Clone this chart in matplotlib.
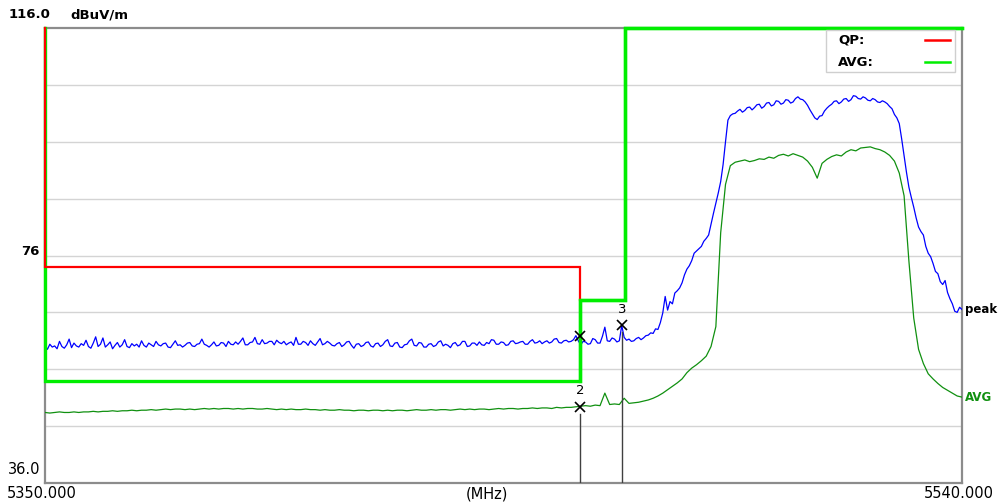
import numpy as np
import matplotlib
matplotlib.use("Agg")
import matplotlib.pyplot as plt

# ---- data ---------------------------------------------------------------
freq_start = 5350.0
freq_stop = 5540.0
peak_freqs = np.arange(5350, 5540.25, 0.5)  # 0.5 MHz steps
avg_freqs = np.arange(5350, 5541, 1.0)      # 1 MHz steps

peak_trace = [
    # 5350 - 5359.5
    60.2, 59.5, 60.4, 59.9, 60.1, 59.6, 60.9, 60.0, 59.7, 60.3,
    61.3, 59.8, 60.6, 60.1, 59.9, 60.5, 60.2, 61.1, 60.0, 59.7,
    # 5360 - 5369.5
    60.6, 61.7, 60.0, 60.4, 61.5, 59.9, 60.3, 60.8, 59.6, 60.2,
    60.7, 59.9, 60.3, 61.2, 60.0, 59.8, 60.5, 60.1, 60.4, 59.9,
    # 5370 - 5379.5
    61.0, 60.2, 59.9, 60.6, 60.3, 60.0, 60.9, 60.3, 60.1, 60.5,
    60.6, 59.9, 59.8, 60.4, 61.0, 60.2, 60.3, 59.9, 60.2, 60.6,
    # 5380 - 5389.5
    60.7, 60.1, 60.0, 60.4, 60.5, 61.3, 60.4, 60.2, 59.9, 60.3,
    60.8, 60.1, 60.2, 60.7, 60.6, 60.0, 60.9, 60.4, 60.3, 60.8,
    # 5390 - 5399.5
    60.4, 60.9, 61.5, 60.3, 60.3, 60.7, 60.8, 61.6, 60.5, 60.4,
    61.2, 60.5, 60.6, 60.9, 60.9, 60.3, 61.1, 60.7, 60.5, 60.9,
    # 5400 - 5409.5
    60.3, 60.6, 60.8, 60.2, 61.6, 60.4, 60.4, 60.9, 60.7, 60.2,
    61.0, 60.5, 60.2, 60.8, 61.4, 60.3, 60.5, 60.9, 60.6, 60.2,
    # 5410 - 5419.5
    60.1, 60.5, 60.7, 60.0, 60.3, 60.8, 60.9, 60.2, 59.7, 60.4,
    60.5, 60.0, 60.2, 60.7, 60.8, 60.1, 59.9, 60.5, 60.6, 60.0,
    # 5420 - 5429.5
    60.3, 60.9, 61.2, 60.1, 60.0, 60.6, 60.7, 59.9, 59.8, 60.3,
    60.4, 61.0, 61.3, 60.2, 60.1, 60.7, 60.6, 59.9, 59.9, 60.4,
    # 5430 - 5439.5
    60.5, 60.0, 60.2, 60.8, 61.0, 60.1, 60.4, 60.2, 59.8, 60.5,
    60.7, 60.1, 60.3, 60.9, 60.9, 60.0, 60.1, 60.6, 60.6, 60.2,
    # 5440 - 5449.5
    60.8, 60.3, 60.2, 60.7, 60.5, 61.2, 61.1, 60.4, 60.4, 60.8,
    60.7, 60.2, 60.3, 60.9, 61.0, 60.5, 60.6, 60.8, 60.9, 60.4,
    # 5450 - 5459.5
    60.4, 60.9, 61.2, 60.6, 60.7, 61.0, 60.5, 60.8, 61.0, 60.6,
    60.8, 61.3, 61.4, 60.7, 60.6, 61.0, 61.1, 60.8, 60.9, 61.2,
    # 5460 - 5469.5
    61.9, 61.0, 60.3, 60.9, 60.8, 60.4, 60.5, 61.4, 61.2, 60.6,
    60.6, 61.8, 63.4, 61.0, 60.9, 61.5, 61.3, 60.8, 61.0, 63.7,
    # 5470 - 5479.5
    61.6, 61.1, 61.3, 60.9, 61.0, 61.4, 61.6, 61.2, 61.5, 61.9,
    62.0, 62.4, 62.3, 63.1, 63.0, 64.2, 65.9, 68.8, 66.4, 67.9,
    # 5480 - 5489.5
    67.5, 69.4, 69.8, 70.3, 71.2, 72.6, 73.6, 74.2, 75.1, 76.4,
    76.8, 77.2, 77.6, 78.5, 79.0, 79.6, 81.5, 83.4, 85.2, 87.0,
    # 5490 - 5499.5
    89.0, 92.0, 96.0, 99.8, 100.6, 100.9, 101.0, 101.4, 101.7, 101.2,
    101.5, 102.0, 102.1, 101.6, 102.0, 102.5, 102.6, 101.9, 102.2, 102.8,
    # 5500 - 5509.5
    102.9, 102.3, 102.5, 103.2, 103.1, 102.6, 102.8, 103.4, 103.3, 102.8,
    103.0, 103.6, 103.9, 103.5, 103.4, 103.0, 102.4, 101.6, 100.9, 100.2,
    # 5510 - 5519.5
    99.9, 100.5, 100.6, 101.4, 101.9, 102.3, 102.6, 103.1, 103.2, 102.7,
    103.0, 103.5, 103.6, 103.1, 103.4, 104.1, 104.0, 103.6, 103.5, 103.9,
    # 5520 - 5529.5
    103.7, 103.3, 103.2, 103.6, 103.4, 103.0, 102.9, 103.2, 103.0, 102.7,
    102.2, 101.8, 100.8, 100.2, 99.2, 96.5, 93.5, 90.6, 88.0, 86.2,
    # 5530 - 5540
    84.5, 82.6, 81.0, 80.2, 79.6, 77.6, 76.4, 75.8, 74.6, 73.2,
    72.8, 71.4, 70.9, 71.6, 69.5, 68.4, 67.5, 66.2, 66.0, 66.9,
    66.5,
]

avg_trace = [
    48.4, 48.3, 48.4, 48.5, 48.4, 48.4, 48.5, 48.4, 48.5, 48.5,
    48.6, 48.5, 48.6, 48.6, 48.7, 48.6, 48.7, 48.7, 48.8, 48.7,
    48.8, 48.8, 48.9, 48.8, 48.9, 49.0, 48.9, 49.0, 49.0, 48.9,
    49.0, 48.9, 49.0, 49.1, 49.0, 49.1, 49.0, 49.1, 49.1, 49.0,
    49.1, 49.0, 49.1, 49.1, 49.0, 49.0, 49.1, 49.0, 48.9, 49.0,
    48.9, 49.0, 48.9, 48.9, 49.0, 48.9, 48.9, 48.8, 48.9, 48.8,
    48.8, 48.9, 48.8, 48.8, 48.7, 48.8, 48.8, 48.7, 48.8, 48.8,
    48.7, 48.8, 48.7, 48.8, 48.8, 48.7, 48.8, 48.9, 48.8, 48.8,
    48.9, 48.8, 48.9, 48.9, 48.8, 48.9, 49.0, 48.9, 49.0, 48.9,
    49.0, 49.0, 48.9, 49.0, 49.1, 49.0, 49.1, 49.1, 49.0, 49.1,
    49.1, 49.2, 49.1, 49.2, 49.2, 49.1, 49.3, 49.2, 49.3, 49.3,
    49.4,
    49.5, 49.6, 49.5, 49.7, 49.6, 51.8, 49.8, 49.9, 49.8,
    50.9,
    50.0, 50.1, 50.2, 50.4, 50.6, 50.9, 51.3,
    51.8, 52.4, 53.0, 53.6, 54.3, 55.4, 56.2, 56.8, 57.5, 58.3,
    60.0, 63.5, 80.0, 88.5, 91.8, 92.4, 92.6, 92.8, 92.5, 92.7,
    93.0, 92.9, 93.3, 93.1, 93.6, 93.8, 93.5, 93.9, 93.6, 93.3,
    92.6, 91.5, 89.6, 92.2, 92.9, 93.4, 93.7, 93.5, 94.2, 94.6,
    94.4, 94.9, 95.0, 95.1, 94.8, 94.6, 94.2, 93.6, 92.6, 90.5,
    86.5, 75.0, 65.0, 59.5, 57.0, 55.2, 54.3, 53.5, 52.8, 52.3,
    51.8, 51.3, 51.1,
]

# limit lines (MHz, dBuV/m)
qp_limit_f = [5350, 5350, 5460.8, 5460.8]
qp_limit_v = [116, 74, 74, 68.2]
avg_limit_f = [5350, 5350, 5460.8, 5460.8, 5470.2, 5470.2, 5540]
avg_limit_v = [116, 54, 54, 68.2, 68.2, 116, 116]

# markers: (label, frequency, level)
marker_ids = ["1", "2", "3"]
marker_freqs = [5460.8, 5460.8, 5469.6]
marker_levels = [61.9, 49.4, 63.7]

y_min, y_max = 36.0, 116.0
grid_levels = [46, 56, 66, 76, 86, 96, 106]

# ---- figure -------------------------------------------------------------
fig = plt.figure(figsize=(9.99, 5.04), dpi=100)
fig.patch.set_facecolor("white")
ax = fig.add_axes([45 / 999, 21 / 504, 917 / 999, 455 / 504])
ax.set_xlim(freq_start, freq_stop)
ax.set_ylim(y_min, y_max)
ax.set_xticks([])
ax.set_yticks([])
for s in ax.spines.values():
    s.set_color("#8c8c8c")
    s.set_linewidth(1.6)

for g in grid_levels:
    ax.axhline(g, color="#d4d4d4", lw=1.0, zorder=1)

bold = dict(fontfamily="DejaVu Sans", fontweight="bold", fontsize=9.5)
side = dict(fontfamily="DejaVu Sans", fontweight="bold", fontsize=8.5)
narrow = dict(fontfamily=["Liberation Sans Narrow", "DejaVu Sans"], fontsize=10.5)

# traces
ax.plot(peak_freqs, peak_trace, color="#0000ff", lw=0.9, zorder=3)
ax.plot(avg_freqs, avg_trace, color="#109010", lw=0.9, zorder=3)

# limits
ax.plot(avg_limit_f, avg_limit_v, color="#00ee00", lw=2.4, zorder=4,
        clip_on=False, solid_joinstyle="miter")
ax.plot(qp_limit_f, qp_limit_v, color="#ff0000", lw=1.6, zorder=4.5,
        clip_on=False, solid_joinstyle="miter")
ax.plot(avg_limit_f[2:], avg_limit_v[2:], color="#00ee00", lw=2.4, zorder=4.6,
        clip_on=False, solid_joinstyle="miter")

# markers (label of marker 1 sits under the limit line)
for mid, mf, mv in zip(marker_ids, marker_freqs, marker_levels):
    ax.plot([mf], [mv], marker="x", color="black", ms=7, mew=1.2, zorder=6)
    if mid != "1":
        ax.annotate(mid, (mf, mv), xytext=(0, 7), textcoords="offset points",
                    ha="center", va="bottom", fontsize=9.5, color="black",
                    zorder=6)
        ax.plot([mf, mf], [y_min, mv - 1.2], color="#404040", lw=1.0, zorder=5)

# axis texts
ax.annotate("116.0", (0, 1), xycoords="axes fraction", xytext=(5, 13),
            textcoords="offset pixels", ha="right", va="center", **bold)
ax.annotate("dBuV/m", (0, 1), xycoords="axes fraction", xytext=(25, 13),
            textcoords="offset pixels", ha="left", va="center", **bold)
ax.annotate("76", (0, (76 - y_min) / (y_max - y_min)), xycoords="axes fraction",
            xytext=(-5, 4), textcoords="offset pixels", ha="right",
            va="center", **bold)
ax.annotate("36.0", (0, 0), xycoords="axes fraction", xytext=(-5, 13),
            textcoords="offset pixels", ha="right", va="center", **narrow)
ax.annotate("5350.000", (0, 0), xycoords="axes fraction", xytext=(-3, -11),
            textcoords="offset pixels", ha="center", va="center", **narrow)
ax.annotate("(MHz)", (442 / 917, 0), xycoords="axes fraction", xytext=(0, -11),
            textcoords="offset pixels", ha="center", va="center", **narrow)
ax.annotate("5540.000", (1, 0), xycoords="axes fraction", xytext=(-3, -11),
            textcoords="offset pixels", ha="center", va="center", **narrow)

# trace names at the right edge
ax.annotate("peak", (freq_stop, peak_trace[-1]), xytext=(3, 0),
            textcoords="offset pixels", ha="left", va="center",
            color="black", annotation_clip=False, **side)
ax.annotate("AVG", (freq_stop, avg_trace[-1]), xytext=(3, 0),
            textcoords="offset pixels", ha="left", va="center",
            color="#109010", annotation_clip=False, **side)

# legend box
lx0, lx1 = 826, 955
ly0, ly1 = 30, 72
def px(x, y):
    return ((x - 45) / 917, 1 - (y - 28) / 455)
x0, y0 = px(lx0, ly1)
x1, y1 = px(lx1, ly0)
ax.add_patch(plt.Rectangle((x0, y0), x1 - x0, y1 - y0, transform=ax.transAxes,
                           facecolor="white", edgecolor="#cfcfcf", lw=1.0,
                           zorder=7))
for name, col, yy in [("QP:", "#ff0000", 40), ("AVG:", "#00ee00", 62)]:
    tx, ty = px(838, yy)
    ax.text(tx, ty, name, transform=ax.transAxes, ha="left", va="center",
            zorder=8, **bold)
    ax.plot([px(925, yy)[0], px(950, yy)[0]], [ty, ty], transform=ax.transAxes,
            color=col, lw=1.8, zorder=8)

fig.savefig("out.png", dpi=100, facecolor="white")
